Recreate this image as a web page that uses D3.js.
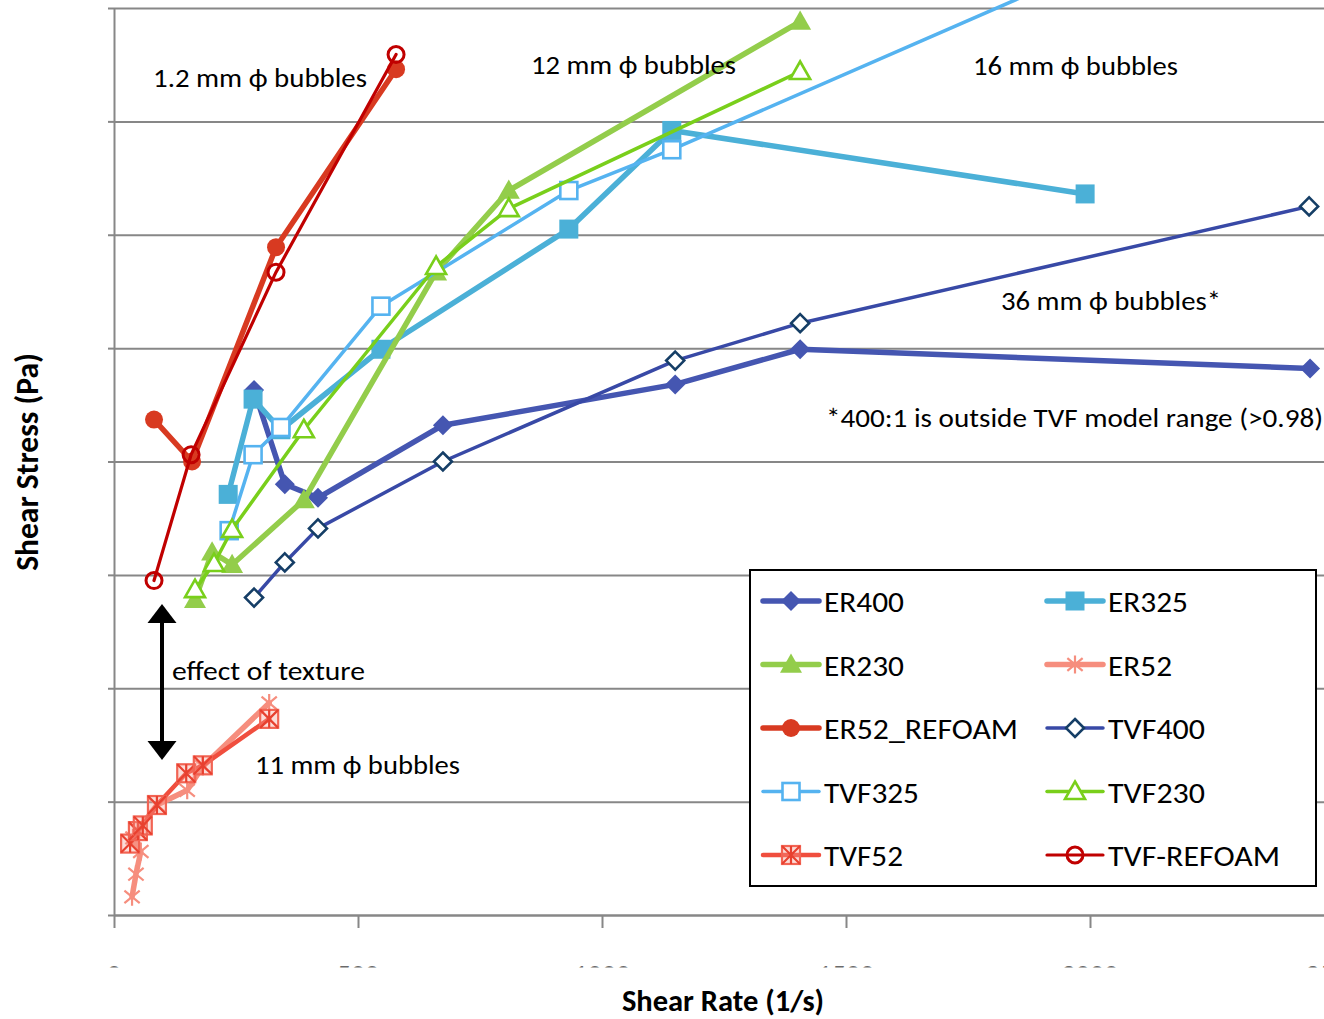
<!DOCTYPE html>
<html><head><meta charset="utf-8">
<script src="https://cdn.jsdelivr.net/npm/d3@7"></script>
<style>
html,body{margin:0;padding:0;background:#fff;}
svg{display:block;font-family:Carlito, Calibri, Lato, "Open Sans", sans-serif;}
</style></head><body>
<svg id="chart" width="1324" height="1019"></svg>
<script>
// ---------- data ----------
const xTicks = [0, 500, 1000, 1500, 2000, 2500];
const yTicks = [0, 10, 20, 30, 40, 50, 60, 70, 80];

const ER400_x = [287, 350, 418, 674, 1150, 1406, 2451];
const ER400_y = [46.3, 38.0, 36.8, 43.2, 46.8, 49.9, 48.2];

const ER325_x = [234, 285, 342, 547, 932, 1143, 1990];
const ER325_y = [37.1, 45.5, 42.8, 49.9, 60.5, 69.2, 63.6];

const ER230_x = [166, 201, 242, 389, 660, 809, 1406];
const ER230_y = [27.8, 32.0, 30.9, 36.6, 56.7, 63.9, 78.8];

const ER52_x = [37, 45, 55, 39, 49, 88, 150, 182, 318];
const ER52_y = [1.6, 3.6, 5.6, 6.8, 7.5, 9.7, 11.0, 13.1, 18.7];

const ER52R_x = [82, 160, 332, 578];
const ER52R_y = [43.7, 40.0, 58.9, 74.6];

const TVF400_x = [287, 350, 418, 674, 1150, 1406, 2449];
const TVF400_y = [28.0, 31.1, 34.1, 40.0, 48.9, 52.2, 62.5];

const TVF325_x = [236, 285, 342, 547, 932, 1143, 1990];
const TVF325_y = [33.9, 40.6, 43.0, 53.7, 63.9, 67.5, 83.4];

const TVF230_x = [166, 205, 242, 389, 660, 809, 1406];
const TVF230_y = [28.7, 31.0, 34.0, 42.8, 57.2, 62.3, 74.4];

const TVF52_x = [33, 49, 59, 88, 148, 182, 318];
const TVF52_y = [6.3, 7.4, 7.9, 9.7, 12.5, 13.2, 17.3];

const TVFR_x = [82, 158, 332, 578];
const TVFR_y = [29.5, 40.6, 56.7, 75.9];

const seriesNames = ["ER400","ER325","ER230","ER52","ER52_REFOAM","TVF400","TVF325","TVF230","TVF52","TVF-REFOAM"];

// ---------- styles ----------
const styles = {
  "ER400":       {xs:ER400_x,  ys:ER400_y,  color:"#4556B1", mcolor:"#4556B1", w:5.5, marker:"diamond",  fill:true},
  "ER325":       {xs:ER325_x,  ys:ER325_y,  color:"#4BB0D7", mcolor:"#4BB0D7", w:5.5, marker:"square",   fill:true},
  "ER230":       {xs:ER230_x,  ys:ER230_y,  color:"#93CD4B", mcolor:"#93CD4B", w:5.5, marker:"triangle", fill:true},
  "ER52":        {xs:ER52_x,   ys:ER52_y,   color:"#F68E7E", mcolor:"#F68E7E", w:5.5, marker:"star",     fill:false},
  "ER52_REFOAM": {xs:ER52R_x,  ys:ER52R_y,  color:"#D83A21", mcolor:"#D83A21", w:5.5, marker:"circle",   fill:true},
  "TVF400":      {xs:TVF400_x, ys:TVF400_y, color:"#3849A6", mcolor:"#153E66", w:3.5, marker:"diamond",  fill:false},
  "TVF325":      {xs:TVF325_x, ys:TVF325_y, color:"#55B3F0", mcolor:"#55B3F0", w:3.5, marker:"square",   fill:false},
  "TVF230":      {xs:TVF230_x, ys:TVF230_y, color:"#79CF1B", mcolor:"#79CF1B", w:3.5, marker:"triangle", fill:false},
  "TVF52":       {xs:TVF52_x,  ys:TVF52_y,  color:"#F04E3E", mcolor:"#F26454", w:4.5, marker:"boxstar",  fill:false},
  "TVF-REFOAM":  {xs:TVFR_x,   ys:TVFR_y,   color:"#C00000", mcolor:"#C00000", w:3.2, marker:"circle",   fill:false}
};

// ---------- scales ----------
const svg = d3.select("#chart");
const x = d3.scaleLinear().domain([0, 2500]).range([114, 1334]);
const y = d3.scaleLinear().domain([0, 80]).range([915, 8]);
const gridColor = "#878787";

// gridlines
svg.append("g")
  .attr("transform", "translate(114,0)")
  .call(d3.axisLeft(y).tickValues(yTicks).tickSize(-1220).tickFormat(""))
  .call(g => g.select(".domain").remove())
  .call(g => g.selectAll("line").attr("stroke", gridColor).attr("stroke-width", 2));

// y axis (outer ticks, no labels)
svg.append("g")
  .attr("transform", "translate(114,0)")
  .call(d3.axisLeft(y).tickValues(yTicks).tickSize(6).tickSizeOuter(0).tickFormat(""))
  .call(g => g.selectAll("line,path").attr("stroke", gridColor).attr("stroke-width", 2));

// x axis
svg.append("g")
  .attr("transform", "translate(0,915)")
  .call(d3.axisBottom(x).tickValues(xTicks).tickSize(13).tickSizeOuter(0).tickFormat(""))
  .call(g => g.selectAll("line,path").attr("stroke", gridColor).attr("stroke-width", 2));

// x tick labels (cut off in the original, only the top edges are visible)
svg.append("defs").append("clipPath").attr("id", "xlabclip")
  .append("rect").attr("x", 0).attr("y", 962).attr("width", 1324).attr("height", 5.5);
svg.append("g").attr("clip-path", "url(#xlabclip)")
  .selectAll("text").data(xTicks).join("text")
  .attr("x", d => x(d)).attr("y", 985)
  .attr("text-anchor", "middle")
  .attr("font-size", 28).attr("fill", "#6a6a6a")
  .text(d => d3.format("d")(d));

// ---------- markers ----------
function drawMarker(g, type, cx, cy, color, filled, s) {
  s = s || 9;
  const fill = filled ? color : "#fff";
  const sw = filled ? 0 : 2.6;
  if (type === "diamond") {
    const r = filled ? s + 1 : s;
    g.append("path").attr("d", `M${cx},${cy-r}L${cx+r},${cy}L${cx},${cy+r}L${cx-r},${cy}Z`)
      .attr("fill", fill).attr("stroke", color).attr("stroke-width", sw);
  } else if (type === "square") {
    const r = filled ? s + 0.5 : s - 0.5;
    g.append("rect").attr("x", cx-r).attr("y", cy-r).attr("width", 2*r).attr("height", 2*r)
      .attr("fill", fill).attr("stroke", color).attr("stroke-width", sw);
  } else if (type === "triangle") {
    const r = filled ? s + 2 : s + 1;
    g.append("path").attr("d", `M${cx},${cy-r}L${cx+r},${cy+r*0.75}L${cx-r},${cy+r*0.75}Z`)
      .attr("fill", fill).attr("stroke", color).attr("stroke-width", sw).attr("stroke-linejoin","miter");
  } else if (type === "circle") {
    g.append("circle").attr("cx", cx).attr("cy", cy).attr("r", filled ? s : s - 1)
      .attr("fill", filled ? color : "none").attr("stroke", color).attr("stroke-width", filled ? 0 : 3);
  } else if (type === "star") {
    const r = s;
    g.append("path")
      .attr("d", `M${cx},${cy-r}V${cy+r}M${cx-r*0.85},${cy-r*0.7}L${cx+r*0.85},${cy+r*0.7}M${cx-r*0.85},${cy+r*0.7}L${cx+r*0.85},${cy-r*0.7}`)
      .attr("fill", "none").attr("stroke", color).attr("stroke-width", 2.2);
  } else if (type === "boxstar") {
    const r = s;
    g.append("rect").attr("x", cx-r).attr("y", cy-r).attr("width", 2*r).attr("height", 2*r)
      .attr("fill", "#F79A8E").attr("fill-opacity", 0.35).attr("stroke", color).attr("stroke-width", 2.2);
    g.append("path")
      .attr("d", `M${cx},${cy-r}V${cy+r}M${cx-r},${cy-r}L${cx+r},${cy+r}M${cx-r},${cy+r}L${cx+r},${cy-r}`)
      .attr("fill", "none").attr("stroke", "#E8402F").attr("stroke-width", 2.2);
  }
}

// ---------- series ----------
const line = d3.line().x(d => x(d[0])).y(d => y(d[1]));
seriesNames.forEach(name => {
  const st = styles[name];
  const pts = st.xs.map((v, i) => [v, st.ys[i]]);
  const g = svg.append("g").attr("class", "series");
  g.append("path").datum(pts).attr("d", line)
    .attr("fill", "none").attr("stroke", st.color).attr("stroke-width", st.w)
    .attr("stroke-linejoin", "round").attr("stroke-linecap", "round");
  pts.forEach(p => drawMarker(g, st.marker, x(p[0]), y(p[1]), st.mcolor, st.fill));
});

// ---------- annotations ----------
const annotations = [
  {t:"1.2 mm \u03D5 bubbles", x:153, y:87, w:214},
  {t:"12 mm \u03D5 bubbles", x:531, y:74, w:205},
  {t:"16 mm \u03D5 bubbles", x:973, y:75, w:205},
  {t:"36 mm \u03D5 bubbles*", x:1001, y:310, w:220},
  {t:"*400:1 is outside TVF model range (>0.98)", x:826, y:427, w:497},
  {t:"effect of texture", x:172, y:680, w:193},
  {t:"11 mm \u03D5 bubbles", x:255, y:774, w:205}
];
svg.append("g").selectAll("text").data(annotations).join("text")
  .attr("x", d => d.x).attr("y", d => d.y)
  .attr("font-size", 27).attr("fill", "#000")
  .attr("textLength", d => d.w).attr("lengthAdjust", "spacingAndGlyphs")
  .text(d => d.t);

// double-headed arrow
const ag = svg.append("g");
ag.append("line").attr("x1", 162).attr("x2", 162).attr("y1", 618).attr("y2", 745)
  .attr("stroke", "#000").attr("stroke-width", 4);
ag.append("path").attr("d", "M162,604L176.5,623L147.5,623Z").attr("fill", "#000");
ag.append("path").attr("d", "M162,760L176.5,741L147.5,741Z").attr("fill", "#000");

// axis titles
svg.append("text").attr("x", 723).attr("y", 1011).attr("text-anchor", "middle")
  .attr("font-size", 30.5).attr("font-weight", "bold").attr("fill", "#000")
  .text("Shear Rate (1/s)");
svg.append("text").attr("transform", "translate(38,462) rotate(-90)").attr("text-anchor", "middle")
  .attr("font-size", 31.5).attr("font-weight", "bold").attr("fill", "#000")
  .text("Shear Stress (Pa)");

// ---------- legend ----------
const lg = svg.append("g");
lg.append("rect").attr("x", 750).attr("y", 570).attr("width", 566).attr("height", 316)
  .attr("fill", "#fff").attr("stroke", "#000").attr("stroke-width", 2);
const legendW = {"ER400":80,"ER325":80,"ER230":80,"ER52":64,"ER52_REFOAM":194,"TVF400":97,"TVF325":95,"TVF230":97,"TVF52":79,"TVF-REFOAM":172};
seriesNames.forEach((name, i) => {
  const st = styles[name];
  const col = i % 2, row = Math.floor(i / 2);
  const x0 = col === 0 ? 763 : 1047;
  const cy = 601 + row * 63.5;
  lg.append("line").attr("x1", x0).attr("x2", x0 + 56).attr("y1", cy).attr("y2", cy)
    .attr("stroke", st.color).attr("stroke-width", st.w).attr("stroke-linecap", "round");
  drawMarker(lg, st.marker, x0 + 28, cy, st.mcolor, st.fill);
  lg.append("text").attr("x", x0 + 61).attr("y", cy + 11)
    .attr("font-size", 29).attr("fill", "#000")
    .attr("textLength", legendW[name]).attr("lengthAdjust", "spacingAndGlyphs")
    .text(name);
});
</script>
</body></html>
